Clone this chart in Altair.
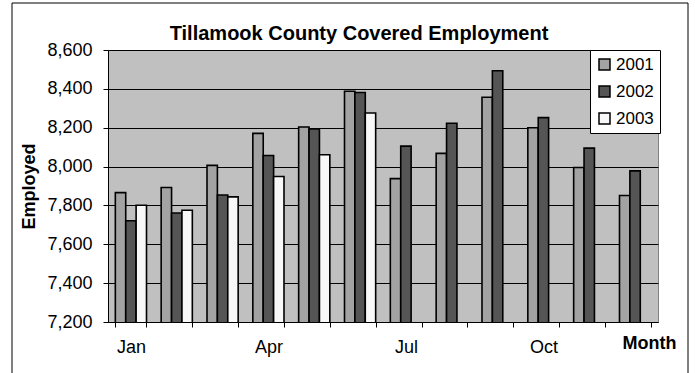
import altair as alt
import pandas as pd

title_text = "Tillamook County Covered Employment"
months = ["Jan", "Feb", "Mar", "Apr", "May", "Jun", "Jul", "Aug", "Sep", "Oct", "Nov", "Dec"]
years = ["2001", "2002", "2003"]
emp_2001 = [7866, 7892, 8006, 8171, 8204, 8388, 7938, 8068, 8357, 8200, 7995, 7851]
emp_2002 = [7721, 7761, 7854, 8057, 8193, 8381, 8105, 8223, 8493, 8252, 8095, 7978]
emp_2003 = [7801, 7775, 7844, 7949, 8061, 8276, None, None, None, None, None, None]
shown_labels = ["Jan", "Apr", "Jul", "Oct"]
y_ticks = [7200, 7400, 7600, 7800, 8000, 8200, 8400, 8600]
colors = ["#A3A3A3", "#555555", "#F8F8F8"]

rows = []
for yr, vals in zip(years, [emp_2001, emp_2002, emp_2003]):
    for m, v in zip(months, vals):
        if v is not None:
            rows.append({"Month": m, "Year": yr, "Employed": v})
df = pd.DataFrame(rows)

FONT = "Liberation Sans"

bars = alt.Chart(df).mark_bar(stroke="black", strokeWidth=1.6, clip=True).encode(
    x=alt.X(
        "Month:N",
        sort=months,
        scale=alt.Scale(domain=months, paddingInner=0.32, paddingOuter=0.16),
        axis=alt.Axis(
            title="Month",
            titleFont=FONT,
            titleFontSize=18,
            titleFontWeight="bold",
            titleX=568,
            titleY=26,
            titleAlign="right",
            titleBaseline="alphabetic",
            tickBand="extent",
            tickSize=5,
            tickColor="black",
            domainColor="black",
            labelExpr="indexof(" + str(shown_labels) + ", datum.value) >= 0 ? datum.value : ''",
            labelAngle=0,
            labelFont=FONT,
            labelFontSize=18,
            labelColor="black",
            labelPadding=11,
            grid=False,
        ),
    ),
    xOffset=alt.XOffset("Year:N", scale=alt.Scale(domain=years, paddingInner=0, paddingOuter=0)),
    y=alt.Y(
        "Employed:Q",
        scale=alt.Scale(domain=[7200, 8600], nice=False, zero=False),
        axis=alt.Axis(
            title="Employed",
            titleFont=FONT,
            titleFontSize=18,
            titleFontWeight="bold",
            titlePadding=8,
            values=y_ticks,
            format=",.0f",
            tickSize=5,
            tickColor="black",
            domainColor="black",
            labelFont=FONT,
            labelFontSize=18,
            labelColor="black",
            labelPadding=11,
            grid=True,
            gridColor="black",
            gridWidth=1,
        ),
    ),
    color=alt.Color(
        "Year:N",
        scale=alt.Scale(domain=years, range=colors),
        legend=alt.Legend(
            title=None,
            orient="none",
            legendX=482,
            legendY=0,
            symbolType="square",
            symbolSize=121,
            symbolStrokeColor="black",
            symbolStrokeWidth=1.5,
            labelFont=FONT,
            labelFontSize=17,
            labelColor="black",
            labelOffset=3,
            rowPadding=9,
            padding=6,
            fillColor="white",
            strokeColor="black",
        ),
    ),
)

title_mark = alt.Chart(pd.DataFrame({"t": [title_text]})).mark_text(
    font=FONT, fontSize=20, fontWeight="bold", color="black",
    align="center", baseline="alphabetic"
).encode(text="t:N", x=alt.value(251), y=alt.value(-10))

frame = alt.Chart(pd.DataFrame({"a": [0]})).mark_rect(
    fill=None, stroke="black", strokeWidth=1
).encode(
    x=alt.value(-96), x2=alt.value(580), y=alt.value(-47), y2=alt.value(330)
)

chart = alt.layer(bars, title_mark, frame).properties(
    width=550,
    height=272,
    padding={"left": 108, "top": 50, "right": 37, "bottom": 51},
    autosize=alt.AutoSizeParams(type="none"),
    background="white",
).configure_view(
    fill="#C0C0C0", stroke="#808080", strokeWidth=1
)

chart.save("out.html", embed_options={"renderer": "svg", "actions": False})
